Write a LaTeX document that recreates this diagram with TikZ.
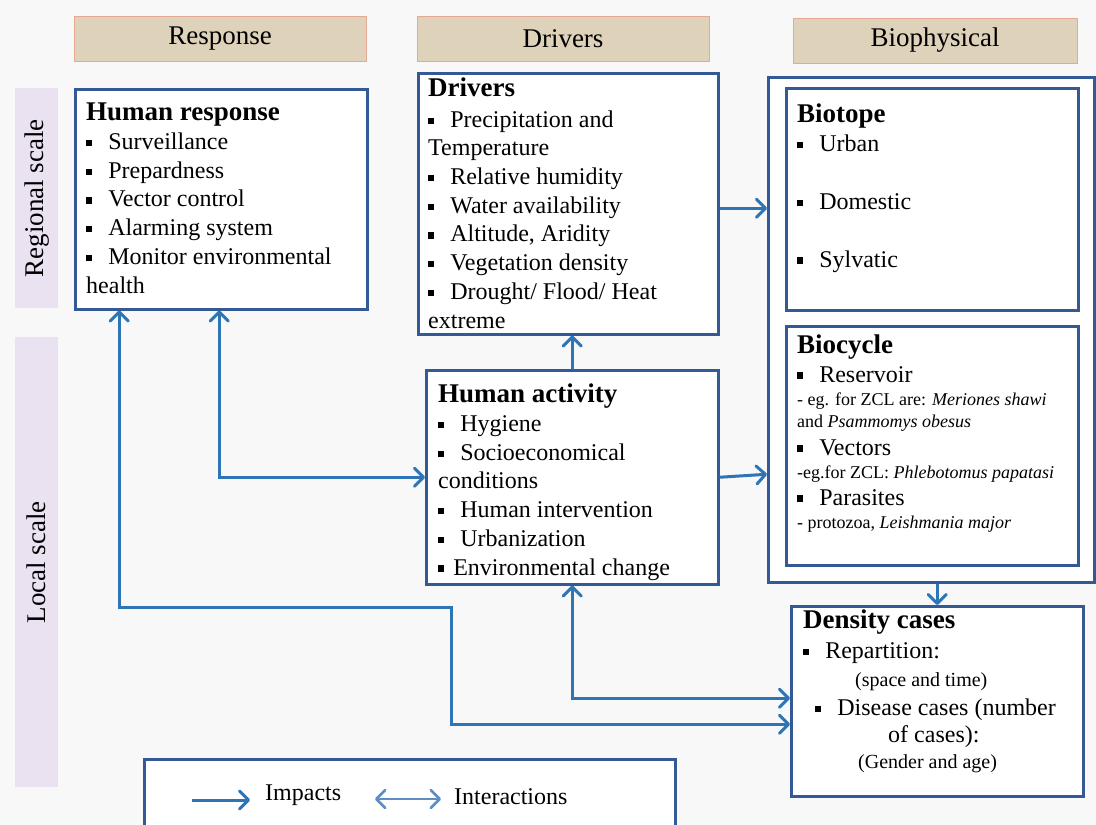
\documentclass[tikz,border=0pt]{standalone}
\usepackage{fontspec}
\setmainfont{Liberation Serif}
\usepackage{xcolor}
\definecolor{boxblue}{RGB}{52,90,150}
\definecolor{arrowblue}{RGB}{46,117,182}
\definecolor{lightarrow}{RGB}{95,140,195}
\definecolor{headtan}{RGB}{222,210,186}
\definecolor{scalelilac}{RGB}{234,226,240}
\definecolor{paper}{RGB}{248,248,248}
\usepackage{tikz}
\usetikzlibrary{arrows.meta}
\newcommand{\bul}[1][0.66em]{\rule[0.14em]{0.26em}{0.26em}\hspace{#1}}
\newcommand{\hd}[1]{{\fontsize{27}{28.7}\selectfont\bfseries #1}}
\newcommand{\sm}{\fontsize{18}{22}\selectfont}
\tikzset{
  box/.style={draw=boxblue, line width=2.5pt, fill=white, anchor=north west, inner sep=0pt},
  headbox/.style={fill=headtan, draw=headtan!80!red, line width=0.6pt, inner sep=0pt,
    font=\fontsize{27}{32}\selectfont},
  scalebox/.style={fill=scalelilac, inner sep=0pt, anchor=north west,
    font=\fontsize{27}{32}\selectfont},
  txt/.style={anchor=base west, align=left, inner sep=0pt, font=\fontsize{24}{28.7}\selectfont},
  barb/.tip={Straight Barb[length=9pt,width=18pt,line cap=round,line join=round]},
  impact/.style={draw=arrowblue, line width=3pt, -barb},
  interact/.style={draw=arrowblue, line width=3pt, barb-barb}
}

\begin{document}
\begin{tikzpicture}[x=1pt,y=-1pt]
    \fill[paper] (0,0) rectangle (1096,825);
    \useasboundingbox (0,0) rectangle (1096,825);
    % column headers
    \node[headbox, minimum width=292pt, minimum height=45pt] (hresp) at (220,38.5) {Response};
    \node[headbox, minimum width=292pt, minimum height=45pt] (hdrv) at (563,38.5) {Drivers};
    \node[headbox, minimum width=284pt, minimum height=45pt] (hbio) at (935,40.5) {Biophysical};
    % scale bands
    \node[scalebox, minimum width=43pt, minimum height=220pt] (reg) at (15,88) {};
    \node[rotate=90, font=\fontsize{27}{32}\selectfont] (regtext) at (reg.center) {Regional scale};
    \node[scalebox, minimum width=43pt, minimum height=450pt] (loc) at (15,337) {};
    \node[rotate=90, font=\fontsize{27}{32}\selectfont] (loctext) at (loc.center) {Local scale};
    % boxes
    \node[box, minimum width=292pt, minimum height=220pt] (resp) at (74,88) {};
    \node[box, minimum width=300pt, minimum height=261pt] (drv) at (417,72) {};
    \node[box, minimum width=326pt, minimum height=505pt] (bio) at (767,76) {};
    \node[box, minimum width=292pt, minimum height=222pt] (btp) at (785,87) {};
    \node[box, minimum width=292pt, minimum height=239pt] (bcy) at (785,325) {};
    \node[box, minimum width=292pt, minimum height=214pt] (act) at (425,369) {};
    \node[box, minimum width=292pt, minimum height=190pt] (dens) at (790,605) {};
    \node[box, minimum width=531pt, minimum height=80pt] (leg) at (143,758) {};
    % box texts (placed at the baseline of their last line)
    \node[txt] (resptext) at (86,293) {\hd{Human response}\\ \bul Surveillance\\ \bul Prepardness\\
      \bul Vector control\\ \bul Alarming system\\ \bul Monitor environmental\\ health};
    \node[txt] (drvtext) at (428,328) {\hd{Drivers}\\[2pt] \bul Precipitation and\\ Temperature\\
      \bul Relative humidity\\ \bul Water availability\\ \bul Altitude, Aridity\\
      \bul Vegetation density\\ \bul Drought/ Flood/ Heat\\ extreme};
    \node[txt] (btptext) at (797,267) {\hd{Biotope}\\ \bul Urban\\[29pt] \bul Domestic\\[29pt] \bul Sylvatic};
    \node[txt] (bcytext) at (797,528) {\hd{Biocycle}\\ \bul Reservoir\\[-5.7pt]
      {\sm - eg. for ZCL are: \textit{Meriones shawi}}\\[-6.7pt]
      {\sm and \textit{Psammomys obesus}}\\[-0.7pt] \bul Vectors\\[-5.7pt]
      {\sm -eg.for ZCL: \textit{Phlebotomus papatasi}}\\[-1.7pt] \bul Parasites\\[-5.7pt]
      {\sm - protozoa, \textit{Leishmania major}}};
    \node[txt] (acttext) at (438,575) {\hd{Human activity}\\ \bul Hygiene\\ \bul Socioeconomical\\
      conditions\\ \bul Human intervention\\ \bul Urbanization\\ \bul[0.37em]Environmental change};
    \node[txt] (denstext) at (803,768) {\hd{Density cases}\\[1pt] \bul Repartition:\\
      \hspace*{52pt}{\fontsize{20}{24}\selectfont (space and time)}\\
      \hspace*{12pt}\bul Disease cases (number\\[-2pt]
      \hspace*{85pt}of cases):\\[-3pt]
      \hspace*{55pt}{\fontsize{20}{24}\selectfont (Gender and age)}};
    % impacts
    \draw[impact] ([yshift=-4.5pt]drv.east) -- ([yshift=-4.5pt]drv.east -| bio.west);
    \draw[impact] (act.north) -- (act.north |- drv.south);
    \draw[impact] (act.east) -- ([yshift=3pt]act.east -| bio.west);
    \draw[impact] (dens.north |- bio.south) -- (dens.north);
    % interactions
    \draw[interact] ([xshift=-2pt]resp.south) |- (act.west);
    \draw[interact] ([xshift=-102pt]resp.south) -- ++(0,297) -- ++(332,0) |- ([yshift=-23pt]dens.west);
    \draw[interact] (act.south) |- ([yshift=3pt]dens.west);
    % legend
    \coordinate (impa) at (192,800);
    \coordinate (impb) at (250,800);
    \coordinate (inta) at (375,799);
    \coordinate (intb) at (441,799);
    \draw[impact] (impa) -- (impb);
    \draw[draw=lightarrow, line width=2.6pt, barb-barb] (inta) -- (intb);
    \node[anchor=base west, inner sep=0pt, font=\fontsize{24}{28}\selectfont] (imptext) at (265,800) {Impacts};
    \node[anchor=base west, inner sep=0pt, font=\fontsize{24}{28}\selectfont] (inttext) at (454,804) {Interactions};
\end{tikzpicture}
\end{document}
